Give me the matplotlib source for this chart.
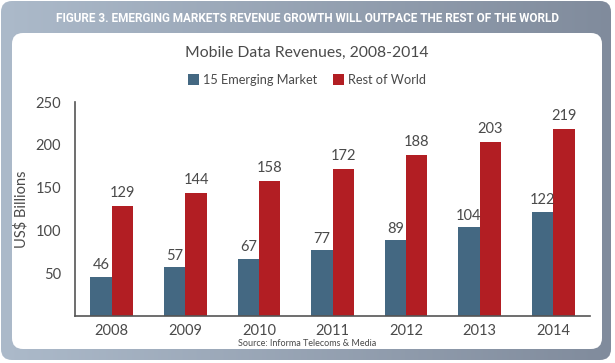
import matplotlib
matplotlib.use("Agg")
import matplotlib.pyplot as plt
import numpy as np
from matplotlib.patches import FancyBboxPatch

years = ["2008", "2009", "2010", "2011", "2012", "2013", "2014"]
emerging = [46, 57, 67, 77, 89, 104, 122]
rest_of_world = [129, 144, 158, 172, 188, 203, 219]
yticks = [50, 100, 150, 200, 250]

blue = "#446882"
red = "#b21e23"
text_grey = "#4a4a4a"

plt.rcParams['font.family'] = ['Lato', 'DejaVu Sans']

W, H = 615, 363
fig = plt.figure(figsize=(W / 100, H / 100), dpi=100)
fig.patch.set_facecolor("white")

# background frame with gradient, in pixel coords
bg = fig.add_axes([0, 0, 1, 1])
bg.set_xlim(0, W)
bg.set_ylim(H, 0)
bg.axis("off")
grad = np.linspace(0, 1, 256).reshape(1, -1)
left_c = np.array([172, 186, 202]) / 255
right_c = np.array([128, 139, 156]) / 255
img = left_c[None, None, :] * (1 - grad[..., None]) + right_c[None, None, :] * grad[..., None]
outer = FancyBboxPatch((1, 1), 610, 359, boxstyle="round,pad=0,rounding_size=11",
                       transform=bg.transData, facecolor="none", edgecolor="none")
bg.add_patch(outer)
im = bg.imshow(img, extent=[0, W, H, 0], aspect="auto", zorder=1)
im.set_clip_path(outer)
inner = FancyBboxPatch((12, 33), 590, 316, boxstyle="round,pad=0,rounding_size=11",
                       facecolor="white", edgecolor="none", zorder=2)
bg.add_patch(inner)
bg.text(307, 18, "FIGURE 3. EMERGING MARKETS REVENUE GROWTH WILL OUTPACE THE REST OF THE WORLD",
        ha="center", va="center", color="white", fontsize=8.5, fontweight="bold",
        family=['Roboto', 'DejaVu Sans'], zorder=3)
bg.text(307, 53, "Mobile Data Revenues, 2008-2014", ha="center", va="center",
        color=text_grey, fontsize=11.3, zorder=3)
bg.text(307, 344, "Source: Informa Telecoms & Media", ha="center", va="center",
        color=text_grey, fontsize=6.5, zorder=3)

# chart axes: x 75..590, y 102..316 px
ax = fig.add_axes([75 / W, 1 - 316 / H, (590 - 75) / W, (316 - 102) / H])
ax.set_facecolor("none")
x = np.arange(len(years))
bw = 0.29
b1 = ax.bar(x - bw / 2, emerging, bw, color=blue, label="15 Emerging Market")
b2 = ax.bar(x + bw / 2, rest_of_world, bw, color=red, label="Rest of World")
for xi, v in zip(x, emerging):
    ax.text(xi - bw / 2, v + 5, str(v), ha="center", va="bottom", color=text_grey, fontsize=10.5)
for xi, v in zip(x, rest_of_world):
    ax.text(xi + bw / 2, v + 7, str(v), ha="center", va="bottom", color=text_grey, fontsize=10.5)

ax.set_xlim(-0.5, len(years) - 0.5)
ax.set_ylim(0, 250)
ax.set_yticks(yticks)
ax.set_xticks(x)
ax.set_xticklabels(years)
ax.tick_params(length=0, labelsize=10.5, labelcolor=text_grey)
ax.tick_params(axis="y", pad=10)
ax.tick_params(axis="x", pad=6)
for s in ["top", "right"]:
    ax.spines[s].set_visible(False)
for s in ["left", "bottom"]:
    ax.spines[s].set_color("#555555")
    ax.spines[s].set_linewidth(1.2)
ax.set_ylabel("US$ Billions", color=text_grey, fontsize=10.5, labelpad=5)

fig.legend(handles=[b1, b2], loc="center", bbox_to_anchor=(307 / W, 1 - 80 / H), ncol=2,
           frameon=False, fontsize=9.2, handlelength=0.9, handleheight=0.9,
           handletextpad=0.3, columnspacing=1.2, labelcolor=text_grey)

fig.savefig("out.png", dpi=100)
